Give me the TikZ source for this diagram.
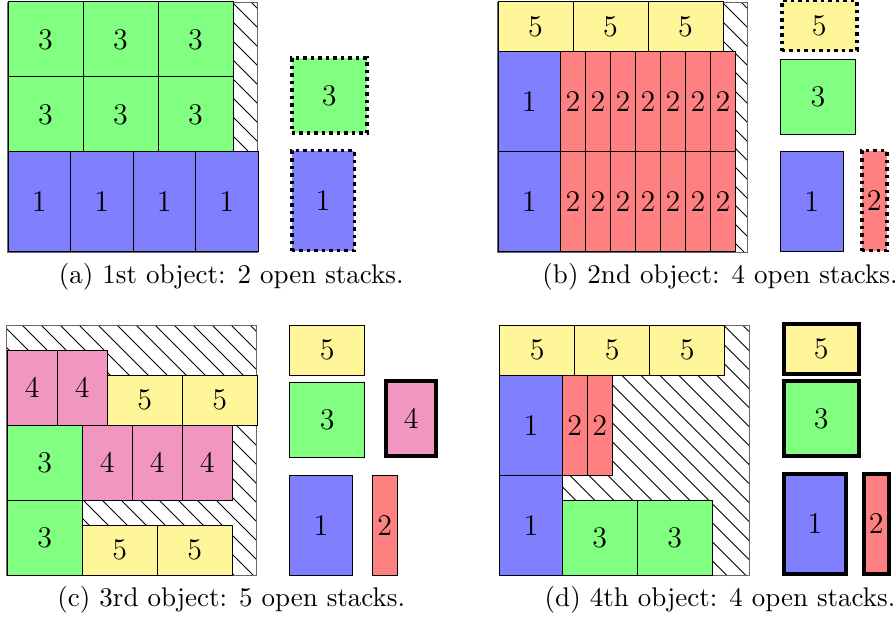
\documentclass[tikz,border=0pt]{standalone}

\definecolor{pinkish}{RGB}{241,150,193}
\definecolor{paleyellow}{RGB}{255,245,153}

% empty object, hatched
\newcommand{\hatchbin}{%
    \begin{scope}
        \clip (0,0) rectangle (10,10);
        \foreach \t in {-10,-9.24,...,10}
            \draw[line width=0.4pt] (\t,10) -- ++(10,-10);
    \end{scope}
    \draw[black!60] (0,0) rectangle (10,10);}

\begin{document}
\begin{tikzpicture}[x=10pt,y=10pt,
    piece/.style={draw, anchor=south west, inner sep=0pt, font=\large},
    s1/.style={piece, fill=blue!50, minimum width=25pt, minimum height=40pt},
    s2/.style={piece, fill=red!50, minimum width=10pt, minimum height=40pt},
    s3/.style={piece, fill=green!50, minimum width=30pt, minimum height=30pt},
    s4/.style={piece, fill=pinkish, minimum width=20pt, minimum height=30pt},
    s5/.style={piece, fill=paleyellow, minimum width=30pt, minimum height=20pt},
    dotbox/.style={line width=1.4pt, dash pattern=on 1.4pt off 1.6pt},
    fatbox/.style={ultra thick},
    caption/.style={font=\fontsize{10.8}{13}\selectfont}]

        \useasboundingbox (0,0) rectangle (35.8,24.76);

        % (a)
        \begin{scope}[shift={(0.3,14.66)}]
            \hatchbin
            \foreach \x [count=\i] in {0,2.5,5,7.5}
                \node[s1] (a1-\i) at (\x,0) {1};
            \foreach \x [count=\i] in {0,3,6} {
                \node[s3] (a3-\i) at (\x,4) {3};
                \node[s3] (a3-\i-up) at (\x,7) {3};
            }
            \node[s3,dotbox] (a3s) at (11.3,4.7) {3};
            \node[s1,dotbox] (a1s) at (11.3,0) {1};
        \end{scope}
        \node[caption] (capa) at (9.25,13.68) {(a) 1st object: 2 open stacks.};

        % (b)
        \begin{scope}[shift={(19.9,14.66)}]
            \hatchbin
            \foreach \y [count=\j] in {0,4} {
                \node[s1] (b1-\j) at (0,\y) {1};
                \foreach \k in {0,...,6}
                    \node[s2] (b2-\j-\k) at (2.5+\k,\y) {2};
            }
            \foreach \x [count=\i] in {0,3,6}
                \node[s5] (b5-\i) at (\x,8) {5};
            \node[s5,dotbox] (b5s) at (11.3,8) {5};
            \node[s3] (b3s) at (11.3,4.7) {3};
            \node[s1] (b1s) at (11.3,0) {1};
            \node[s2,dotbox] (b2s) at (14.5,0) {2};
        \end{scope}
        \node[caption] (capb) at (28.8,13.68) {(b) 2nd object: 4 open stacks.};

        % (c)
        \begin{scope}[shift={(0.27,1.73)}]
            \hatchbin
            \node[s3] (c3-1) at (0,0) {3};
            \node[s5] (c5-1) at (3,0) {5};
            \node[s5] (c5-2) at (6,0) {5};
            \node[s3] (c3-2) at (0,3) {3};
            \foreach \x [count=\i] in {3,5,7}
                \node[s4] (c4-\i) at (\x,3) {4};
            \node[s4] (c4-4) at (0,6) {4};
            \node[s4] (c4-5) at (2,6) {4};
            \node[s5] (c5-3) at (4,6) {5};
            \node[s5] (c5-4) at (7,6) {5};
            \node[s5] (c5s) at (11.3,8) {5};
            \node[s3] (c3s) at (11.3,4.7) {3};
            \node[s4,fatbox] (c4s) at (15.1,4.7) {4};
            \node[s1] (c1s) at (11.3,0) {1};
            \node[s2] (c2s) at (14.6,0) {2};
        \end{scope}
        \node[caption] (capc) at (9.25,0.76) {(c) 3rd object: 5 open stacks.};

        % (d)
        \begin{scope}[shift={(19.97,1.73)}]
            \hatchbin
            \node[s1] (d1-1) at (0,0) {1};
            \node[s1] (d1-2) at (0,4) {1};
            \node[s2] (d2-1) at (2.5,4) {2};
            \node[s2] (d2-2) at (3.5,4) {2};
            \node[s3] (d3-1) at (2.5,0) {3};
            \node[s3] (d3-2) at (5.5,0) {3};
            \foreach \x [count=\i] in {0,3,6}
                \node[s5] (d5-\i) at (\x,8) {5};
            \node[s5,fatbox] (d5s) at (11.3,8) {5};
            \node[s3,fatbox] (d3s) at (11.3,4.7) {3};
            \node[s1,fatbox] (d1s) at (11.3,0) {1};
            \node[s2,fatbox] (d2s) at (14.5,0) {2};
        \end{scope}
        \node[caption] (capd) at (28.8,0.76) {(d) 4th object: 4 open stacks.};

\end{tikzpicture}
\end{document}
